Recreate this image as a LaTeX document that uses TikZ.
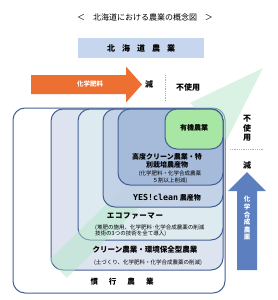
\documentclass[tikz,border=0pt]{standalone}
\usepackage{fontspec}
\setmainfont{Noto Sans CJK JP}
\newfontfamily\monofont{DejaVu Sans Mono}
\definecolor{edgec}{RGB}{68,97,150}
\definecolor{barblue}{RGB}{198,214,238}
\definecolor{orangec}{RGB}{237,112,50}
\definecolor{arrowblue}{RGB}{91,127,191}
\definecolor{dotblue}{RGB}{150,180,220}
\definecolor{cA}{RGB}{255,255,255}
\definecolor{cB}{RGB}{221,228,240}
\definecolor{cC}{RGB}{221,235,241}
\definecolor{cD}{RGB}{190,205,228}
\definecolor{cE}{RGB}{160,181,216}
\definecolor{cF}{RGB}{168,240,152}
\definecolor{greenband}{RGB}{180,230,200}
\tikzset{
  boxshape/.style={draw=edgec, line width=1pt, rounded corners=12pt, inner sep=0pt},
  innerbox/.style={boxshape, fill opacity=0.82, draw opacity=1},
  lab/.style={font=\fontsize{7}{8.5}\selectfont\bfseries, inner sep=0pt, align=center},
  biglab/.style={font=\fontsize{7.5}{9}\selectfont\bfseries, inner sep=0pt, align=center},
  small/.style={font=\fontsize{5.5}{6.5}\selectfont, inner sep=0pt, align=center},
  vtext/.style={font=\fontsize{8}{9.5}\selectfont\bfseries, inner sep=0pt, align=center},
}
\begin{document}
\begin{tikzpicture}[x=1pt,y=-1pt]
\useasboundingbox (0,0) rectangle (277,300);

% title
\node[font=\fontsize{8}{9}\selectfont, inner sep=0pt] (title) at (145,17) {＜\hspace{8pt}北海道における農業の概念図\hspace{8pt}＞};

% top bar
\node[fill=barblue, minimum width=126pt, minimum height=20pt, inner sep=0pt,
      font=\fontsize{8}{9}\selectfont\bfseries] (bar) at (141,48)
      {北\hspace{7pt}海\hspace{7pt}道\hspace{7pt}農\hspace{7pt}業};

% orange arrow
\fill[orangec] (31,75) -- (126,75) -- (126,66.5) -- (142,84.5) -- (126,102.5) -- (126,94) -- (31,94) -- cycle;
\node[font=\fontsize{6.5}{7.5}\selectfont\bfseries, text=white, inner sep=0pt] (hiryo) at (90,84.5) {化学肥料};
\node[vtext] (gen1) at (149,84.5) {減};
\coordinate (dvtop) at (165,75);
\coordinate (dvbot) at (165,102);
\draw[dotblue, densely dotted, line width=0.8pt] (dvtop) -- (dvbot);
\node[vtext] (fushiyo1) at (188,87) {不使用};

% nested boxes (outer ones)
\node[boxshape, fill=cA, minimum width=212pt, minimum height=185pt] (kanko) at (119,200.5) {};
\node[boxshape, fill=cB, minimum width=172pt, minimum height=161pt] (clean) at (137,189.5) {};
\node[boxshape, fill=cC, minimum width=145pt, minimum height=131pt] (eco) at (150.5,174.5) {};

% green translucent arrow
\fill[greenband, opacity=0.5] (49.3,260.1) -- (199.8,112.6) -- (190,103) -- (263,68) -- (226.6,140.2) -- (217.3,130.4) -- (66.8,277.9) -- cycle;

% inner boxes
\node[innerbox, fill=cD, minimum width=120pt, minimum height=98pt] (yes) at (163,158) {};
\node[innerbox, fill=cE, minimum width=105pt, minimum height=76pt] (koudo) at (170.5,147) {};
\node[innerbox, fill=cF, minimum width=58pt, minimum height=40pt] (yuki) at (194,129) {};

% labels
\node[lab] (yukiL) at (194,128) {有機農業};
\node[lab] (koudoL) at (167,161) {高度クリーン農業・特\\別栽培農産物};
\node[small] (koudoS) at (170,177) {(化学肥料・化学合成農薬\\５割以上削減)};
\node[lab] (yesL) at (167,198) {{\monofont\fontsize{8.3}{9}\selectfont\bfseries YES!clean} 農産物};
\node[biglab] (ecoL) at (135,216) {エ\hspace{0.6pt}コ\hspace{0.6pt}フ\hspace{0.6pt}ァ\hspace{0.6pt}ー\hspace{0.6pt}マ\hspace{0.6pt}ー};
\node[small, align=left, anchor=west] (ecoS) at (95,230.5) {(堆肥の施用、化学肥料･化学合成農薬の削減\\技術の3つの技術を全て導入)};
\node[biglab] (cleanL) at (145,250) {クリーン農業・環境保全型農業};
\node[small] (cleanS) at (148,263) {(土づくり、化学肥料・化学合成農薬の削減)};
\node[biglab] (kankoL) at (122,282) {慣\hspace{11pt}行\hspace{11pt}農\hspace{11pt}業};

% right side
\node[vtext] (fushiyo2) at (247,128.5) {不\\使\\用};
\coordinate (dhl) at (230,149);
\coordinate (dhr) at (263,149);
\draw[dotblue, densely dotted, line width=0.8pt] (dhl) -- (dhr);
\node[vtext] (gen2) at (247,165) {減};
\fill[arrowblue] (237,270) -- (237,191) -- (228,191) -- (247,172) -- (266,191) -- (257,191) -- (257,270) -- cycle;
\node[font=\fontsize{6.5}{7.6}\selectfont\bfseries, text=white, inner sep=0pt, align=center] (gosei) at (247,218.5) {化\\学\\合\\成\\農\\薬};
\end{tikzpicture}
\end{document}
